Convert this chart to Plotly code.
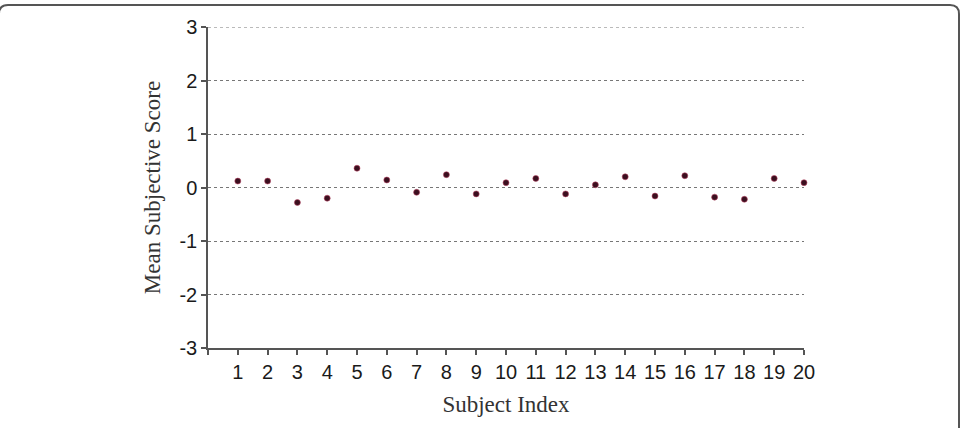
import plotly.graph_objects as go

subjects = list(range(1, 21))
scores = [0.12, 0.12, -0.28, -0.20, 0.36, 0.14, -0.09, 0.24, -0.12, 0.09,
          0.17, -0.12, 0.05, 0.20, -0.16, 0.22, -0.18, -0.22, 0.17, 0.09]
y_ticks = [-3, -2, -1, 0, 1, 2, 3]
y_ticktext = [str(v) for v in y_ticks]
x_ticks = [0] + subjects
x_ticktext = [""] + [str(s) for s in subjects]

fig = go.Figure()
fig.add_trace(go.Scatter(
    x=subjects, y=scores, mode="markers",
    marker=dict(size=6, color="#3b0f1f", line=dict(width=1, color="rgba(190,70,100,0.55)")),
    showlegend=False, cliponaxis=False,
))

W, H = 961, 428
L, R, T, B = 208, 157, 27, 80
pw, ph = W - L - R, H - T - B

def px(x):
    return (x - L) / pw

def py(y):
    return (H - B - y) / ph

r = 9
x0, x1 = px(-1), px(959)
yt, yb = py(5), py(450)
rx, ry = r / pw, r / ph
path = (f"M {x0},{yb} L {x0},{yt-ry} Q {x0},{yt} {x0+rx},{yt} "
        f"L {x1-rx},{yt} Q {x1},{yt} {x1},{yt-ry} L {x1},{yb}")

shapes = [
    dict(type="path", xref="paper", yref="paper", path=path,
         line=dict(color="#555555", width=2), layer="above"),
    # top gridline (Plotly hides the gridline at the range edge)
    dict(type="line", xref="paper", yref="y", x0=0, x1=1, y0=max(y_ticks), y1=max(y_ticks),
         line=dict(color="#777777", width=1, dash="3px,3px"), layer="below"),
]

fig.update_layout(
    width=W, height=H,
    margin=dict(l=L, r=R, t=T, b=B, autoexpand=False),
    paper_bgcolor="white", plot_bgcolor="white",
    shapes=shapes,
    xaxis=dict(
        range=[0, 20], tickvals=x_ticks, ticktext=x_ticktext,
        showgrid=False, zeroline=False, showline=True, linecolor="#555555", linewidth=1.5,
        ticks="outside", ticklen=5, tickcolor="#555555", tickwidth=1.5,
        tickfont=dict(family="Liberation Sans", size=20, color="#1a1a1a"),
        title=dict(text="Subject Index", standoff=14,
                   font=dict(family="Liberation Serif", size=23, color="#333333")),
        automargin=False,
    ),
    yaxis=dict(
        range=[-3, 3], tickvals=y_ticks, ticktext=y_ticktext,
        showgrid=True, gridcolor="#777777", gridwidth=1, griddash="3px,3px",
        zeroline=False, showline=True, linecolor="#555555", linewidth=1.5,
        ticks="outside", ticklen=5, tickcolor="#555555", tickwidth=1.5,
        tickfont=dict(family="Liberation Sans", size=20, color="#1a1a1a"),
        title=dict(text="Mean Subjective Score", standoff=12,
                   font=dict(family="Liberation Serif", size=23, color="#333333")),
        automargin=False,
    ),
)

fig.write_html("out.html")
